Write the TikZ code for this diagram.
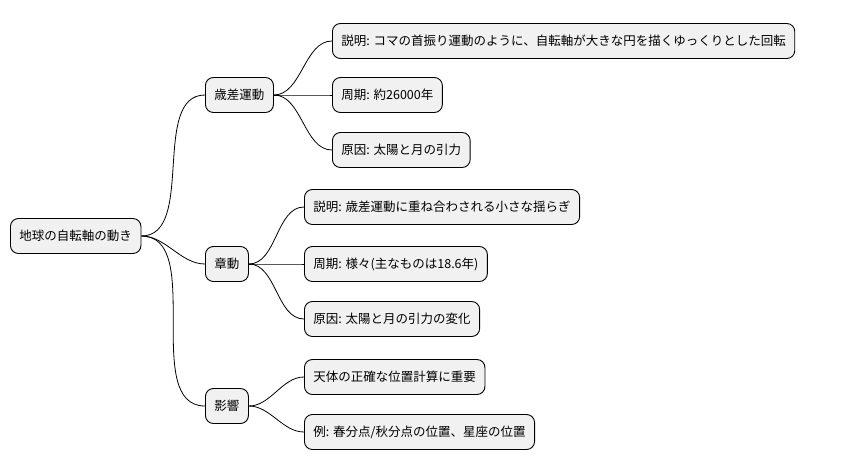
\documentclass[tikz,border=0pt]{standalone}
\usepackage{fontspec}
\setmainfont{Noto Sans CJK JP}
\usetikzlibrary{positioning}
\definecolor{boxfill}{HTML}{F1F1F1}
\tikzset{
  topic/.style={draw=black,fill=boxfill,rounded corners=8pt,line width=0.9pt,
    minimum height=35pt,inner xsep=9pt,anchor=west,font=\fontsize{12.5}{14}\selectfont},
  link/.style={line width=0.8pt,out=0,in=180,looseness=0.9}
}
\begin{document}
\begin{tikzpicture}[x=1pt,y=-1pt]
  \useasboundingbox (0,0) rectangle (862,471);
  \node[topic] (root) at (10,236) {地球の自転軸の動き};
  \node[topic] (prec) at (205,95) {歳差運動};
  \node[topic] (nut) at (205,264) {章動};
  \node[topic] (eff) at (205,406) {影響};
  \node[topic] (p1) at (332,41) {説明: コマの首振り運動のように、自転軸が大きな円を描くゆっくりとした回転};
  \node[topic] (p2) at (332,95) {周期: 約26000年};
  \node[topic] (p3) at (332,150) {原因: 太陽と月の引力};
  \node[topic] (n1) at (304,207) {説明: 歳差運動に重ね合わされる小さな揺らぎ};
  \node[topic] (n2) at (304,264) {周期: 様々(主なものは18.6年)};
  \node[topic] (n3) at (304,319) {原因: 太陽と月の引力の変化};
  \node[topic] (e1) at (304,377) {天体の正確な位置計算に重要};
  \node[topic] (e2) at (304,432) {例: 春分点/秋分点の位置、星座の位置};
  \foreach \a/\b in {root/prec,root/nut,root/eff,prec/p1,prec/p2,prec/p3,
    nut/n1,nut/n2,nut/n3,eff/e1,eff/e2}
    \draw[link] (\a.east) to (\b.west);
\end{tikzpicture}
\end{document}
